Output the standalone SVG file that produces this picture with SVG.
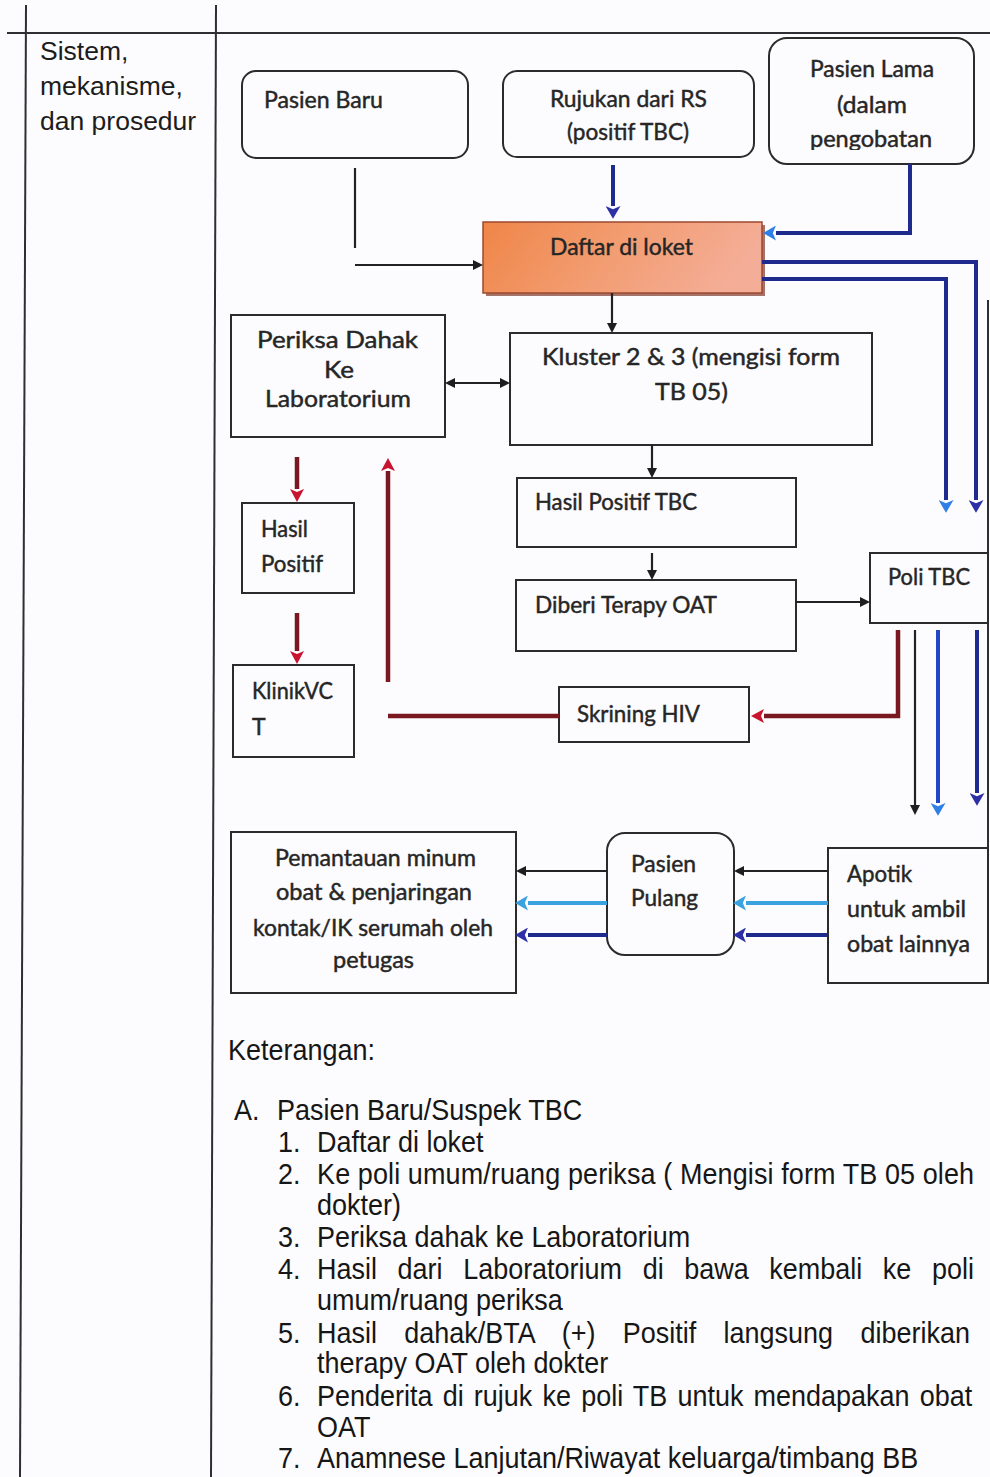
<svg xmlns="http://www.w3.org/2000/svg" width="990" height="1477" viewBox="0 0 990 1477">
<style>
.bg{fill:#fcfbfd}
.tl{stroke:#2e2e33;stroke-width:2;fill:none}
.box{fill:none;stroke:#2b2b2b;stroke-width:2}
.fc{font-family:Lato,"Liberation Sans",sans-serif;font-size:23px;fill:#262626;stroke:#262626;stroke-width:0.45}
.fc2{font-family:Lato,"Liberation Sans",sans-serif;font-size:24px;fill:#262626;stroke:#262626;stroke-width:0.45}
.doc{font-family:"Liberation Sans",Arial,sans-serif;font-size:29px;fill:#161616}
.side{font-family:"Liberation Sans",Arial,sans-serif;font-size:26.5px;fill:#1c1c1c}
.k{stroke:#222;stroke-width:2.2;fill:none}
.nv{stroke:#1e2a8e;stroke-width:4;fill:none}
.mb{stroke:#2346c4;stroke-width:4;fill:none}
.cy{stroke:#3aa2df;stroke-width:4;fill:none}
.rd{stroke:#7a1822;stroke-width:4.5;fill:none}
</style>
<defs>
<marker id="mk" viewBox="0 0 10 10" refX="0" refY="5" markerWidth="10" markerHeight="10" markerUnits="userSpaceOnUse" orient="auto-start-reverse"><path d="M0,0 L10,5 L0,10 z" fill="#1e1e1e"/></marker>
<marker id="mnv" viewBox="0 0 12 14" refX="0" refY="7" markerWidth="13" markerHeight="15" markerUnits="userSpaceOnUse" orient="auto"><path d="M0,0 L12,7 L0,14 L3,7 z" fill="#2c2fa6"/></marker>
<marker id="mlb" viewBox="0 0 12 14" refX="0" refY="7" markerWidth="13" markerHeight="15" markerUnits="userSpaceOnUse" orient="auto"><path d="M0,0 L12,7 L0,14 L3,7 z" fill="#2f7fe6"/></marker>
<marker id="mcy" viewBox="0 0 12 14" refX="0" refY="7" markerWidth="13" markerHeight="15" markerUnits="userSpaceOnUse" orient="auto"><path d="M0,0 L12,7 L0,14 L3,7 z" fill="#3aa2df"/></marker>
<marker id="mrd" viewBox="0 0 13 14" refX="0" refY="7" markerWidth="13" markerHeight="14" markerUnits="userSpaceOnUse" orient="auto"><path d="M0,0 L13,7 L0,14 L3,7 z" fill="#c8142e"/></marker>
<linearGradient id="og" x1="0" y1="0" x2="1" y2="0.2">
<stop offset="0" stop-color="#ef8548"/>
<stop offset="0.45" stop-color="#f29a6c"/>
<stop offset="1" stop-color="#f4ad96"/>
</linearGradient>
<clipPath id="clipLama"><rect x="769" y="38" width="205" height="112"/></clipPath>
</defs>

<rect class="bg" x="0" y="0" width="990" height="1477"/>

<g id="table">
<line class="tl" x1="7" y1="33" x2="990" y2="33"/>
<line class="tl" x1="26" y1="5" x2="20" y2="1477"/>
<line class="tl" x1="216" y1="5" x2="211" y2="1477"/>
<line class="tl" x1="988" y1="300" x2="988" y2="553" stroke-width="1.5"/>
<line class="tl" x1="988" y1="623" x2="988" y2="848" stroke-width="1.5"/>
<text class="side" x="40" y="60">Sistem,</text>
<text class="side" x="40" y="95">mekanisme,</text>
<text class="side" x="40" y="130">dan prosedur</text>
</g>

<g id="pasien-baru">
<rect class="box" x="242" y="71" width="226" height="87" rx="14"/>
<text class="fc" x="264" y="108" textLength="119" lengthAdjust="spacingAndGlyphs">Pasien Baru</text>
</g>

<g id="rujukan">
<rect class="box" x="503" y="71" width="251" height="86" rx="14"/>
<text class="fc" x="550" y="107" textLength="157" lengthAdjust="spacingAndGlyphs">Rujukan dari RS</text>
<text class="fc" x="567" y="140" textLength="122" lengthAdjust="spacingAndGlyphs">(positif TBC)</text>
</g>

<g id="pasien-lama">
<rect class="box" x="769" y="38" width="205" height="126" rx="18"/>
<text class="fc" x="810" y="77" textLength="124" lengthAdjust="spacingAndGlyphs">Pasien Lama</text>
<text class="fc" x="837" y="113" textLength="70" lengthAdjust="spacingAndGlyphs">(dalam</text>
<text class="fc" x="810" y="147" textLength="122" lengthAdjust="spacingAndGlyphs" clip-path="url(#clipLama)">pengobatan</text>
</g>

<g id="daftar">
<rect x="486" y="225" width="279" height="71" fill="#8a4636" opacity="0.75"/>
<rect x="483" y="222" width="279" height="71" fill="url(#og)" stroke="#9c4a30" stroke-width="1.5"/>
<text class="fc" x="550" y="255" textLength="143" lengthAdjust="spacingAndGlyphs">Daftar di loket</text>
</g>

<g id="periksa-dahak">
<rect class="box" x="231" y="315" width="214" height="122"/>
<text class="fc2" x="257" y="348" textLength="161" lengthAdjust="spacingAndGlyphs">Periksa Dahak</text>
<text class="fc2" x="324" y="378" textLength="30" lengthAdjust="spacingAndGlyphs">Ke</text>
<text class="fc2" x="265" y="407" textLength="146" lengthAdjust="spacingAndGlyphs">Laboratorium</text>
</g>

<g id="kluster">
<rect class="box" x="510" y="333" width="362" height="112"/>
<text class="fc" x="542" y="365" textLength="298" lengthAdjust="spacingAndGlyphs">Kluster 2 &amp; 3 (mengisi form</text>
<text class="fc" x="655" y="400" textLength="73" lengthAdjust="spacingAndGlyphs">TB 05)</text>
</g>

<g id="hasil-positif-tbc">
<rect class="box" x="517" y="478" width="279" height="69"/>
<text class="fc" x="535" y="510" textLength="162" lengthAdjust="spacingAndGlyphs">Hasil Positif TBC</text>
</g>

<g id="diberi-terapy">
<rect class="box" x="516" y="580" width="280" height="71"/>
<text class="fc" x="535" y="613" textLength="182" lengthAdjust="spacingAndGlyphs">Diberi Terapy OAT</text>
</g>

<g id="hasil-positif">
<rect class="box" x="242" y="503" width="112" height="90"/>
<text class="fc" x="261" y="537" textLength="47" lengthAdjust="spacingAndGlyphs">Hasil</text>
<text class="fc" x="261" y="572" textLength="62" lengthAdjust="spacingAndGlyphs">Positif</text>
</g>

<g id="klinik-vct">
<rect class="box" x="233" y="665" width="121" height="92"/>
<text class="fc" x="252" y="699" textLength="81" lengthAdjust="spacingAndGlyphs">KlinikVC</text>
<text class="fc" x="252" y="735">T</text>
</g>

<g id="skrining-hiv">
<rect class="box" x="559" y="687" width="190" height="55"/>
<text class="fc" x="577" y="722" textLength="123" lengthAdjust="spacingAndGlyphs">Skrining HIV</text>
</g>

<g id="poli-tbc">
<rect class="box" x="870" y="553" width="118" height="70"/>
<text class="fc" x="888" y="585" textLength="82" lengthAdjust="spacingAndGlyphs">Poli TBC</text>
</g>

<g id="pemantauan">
<rect class="box" x="231" y="832" width="285" height="161"/>
<text class="fc" x="275" y="866" textLength="201" lengthAdjust="spacingAndGlyphs">Pemantauan minum</text>
<text class="fc" x="276" y="900" textLength="196" lengthAdjust="spacingAndGlyphs">obat &amp; penjaringan</text>
<text class="fc" x="253" y="936" textLength="240" lengthAdjust="spacingAndGlyphs">kontak/IK serumah oleh</text>
<text class="fc" x="333" y="968" textLength="81" lengthAdjust="spacingAndGlyphs">petugas</text>
</g>

<g id="pasien-pulang">
<rect class="box" x="607" y="833" width="127" height="122" rx="18"/>
<text class="fc" x="631" y="872" textLength="65" lengthAdjust="spacingAndGlyphs">Pasien</text>
<text class="fc" x="631" y="906" textLength="67" lengthAdjust="spacingAndGlyphs">Pulang</text>
</g>

<g id="apotik">
<rect class="box" x="828" y="848" width="160" height="135"/>
<text class="fc" x="847" y="882" textLength="65" lengthAdjust="spacingAndGlyphs">Apotik</text>
<text class="fc" x="847" y="917" textLength="119" lengthAdjust="spacingAndGlyphs">untuk ambil</text>
<text class="fc" x="847" y="952" textLength="123" lengthAdjust="spacingAndGlyphs">obat lainnya</text>
</g>

<g id="connectors">
<line class="k" x1="355" y1="168" x2="355" y2="248"/>
<line class="k" x1="355" y1="265" x2="473" y2="265" marker-end="url(#mk)"/>
<line class="nv" x1="613" y1="165" x2="613" y2="206" marker-end="url(#mnv)"/>
<polyline class="nv" points="910,164 910,233 776,233" marker-end="url(#mlb)"/>
<polyline class="nv" points="762,262 976,262 976,500" marker-end="url(#mnv)"/>
<polyline class="nv" points="762,279 946,279 946,500" marker-end="url(#mlb)"/>
<line class="k" x1="612" y1="293" x2="612" y2="323" marker-end="url(#mk)"/>
<line class="k" x1="455" y1="383" x2="500" y2="383" marker-start="url(#mk)" marker-end="url(#mk)"/>
<line class="k" x1="652" y1="445" x2="652" y2="468" marker-end="url(#mk)"/>
<line class="k" x1="652" y1="553" x2="652" y2="570" marker-end="url(#mk)"/>
<line class="k" x1="796" y1="602" x2="860" y2="602" marker-end="url(#mk)"/>
<polyline class="rd" points="898,630 898,716 764,716" marker-end="url(#mrd)"/>
<line class="rd" x1="559" y1="716" x2="388" y2="716"/>
<line class="rd" x1="388" y1="682" x2="388" y2="471" marker-end="url(#mrd)"/>
<line class="rd" x1="297" y1="457" x2="297" y2="489" marker-end="url(#mrd)"/>
<line class="rd" x1="297" y1="613" x2="297" y2="651" marker-end="url(#mrd)"/>
<line class="k" x1="915" y1="630" x2="915" y2="805" marker-end="url(#mk)"/>
<line class="mb" x1="938" y1="630" x2="938" y2="803" marker-end="url(#mlb)"/>
<line class="nv" x1="977" y1="630" x2="977" y2="793" marker-end="url(#mnv)"/>
<line class="k" x1="828" y1="871" x2="744" y2="871" marker-end="url(#mk)"/>
<line class="cy" x1="828" y1="903" x2="746" y2="903" marker-end="url(#mcy)"/>
<line class="nv" x1="828" y1="935" x2="746" y2="935" marker-end="url(#mnv)"/>
<line class="k" x1="607" y1="871" x2="526" y2="871" marker-end="url(#mk)"/>
<line class="cy" x1="607" y1="903" x2="528" y2="903" marker-end="url(#mcy)"/>
<line class="nv" x1="607" y1="935" x2="528" y2="935" marker-end="url(#mnv)"/>
</g>

<g id="keterangan" transform="scale(0.93,1)">
<text class="doc" x="245.2" y="1060">Keterangan:</text>
<text class="doc" x="251.6" y="1120">A.</text>
<text class="doc" x="297.8" y="1120">Pasien Baru/Suspek TBC</text>
<text class="doc" x="298.9" y="1152">1.</text>
<text class="doc" x="340.9" y="1152">Daftar di loket</text>
<text class="doc" x="298.9" y="1184">2.</text>
<text class="doc" x="340.9" y="1184" textLength="706.5" lengthAdjust="spacing">Ke poli umum/ruang periksa ( Mengisi form TB 05 oleh</text>
<text class="doc" x="340.9" y="1215">dokter)</text>
<text class="doc" x="298.9" y="1247">3.</text>
<text class="doc" x="340.9" y="1247">Periksa dahak ke Laboratorium</text>
<text class="doc" x="298.9" y="1279">4.</text>
<text class="doc" x="340.9" y="1279" style="word-spacing:14.1px">Hasil dari Laboratorium di bawa kembali ke poli</text>
<text class="doc" x="340.9" y="1310">umum/ruang periksa</text>
<text class="doc" x="298.9" y="1343">5.</text>
<text class="doc" x="340.9" y="1343" style="word-spacing:21.4px">Hasil dahak/BTA (+) Positif langsung diberikan</text>
<text class="doc" x="340.9" y="1373">therapy OAT oleh dokter</text>
<text class="doc" x="298.9" y="1406">6.</text>
<text class="doc" x="340.9" y="1406" style="word-spacing:2.9px">Penderita di rujuk ke poli TB untuk mendapakan obat</text>
<text class="doc" x="340.9" y="1437">OAT</text>
<text class="doc" x="298.9" y="1468">7.</text>
<text class="doc" x="340.9" y="1468">Anamnese Lanjutan/Riwayat keluarga/timbang BB</text>
</g>
</svg>
